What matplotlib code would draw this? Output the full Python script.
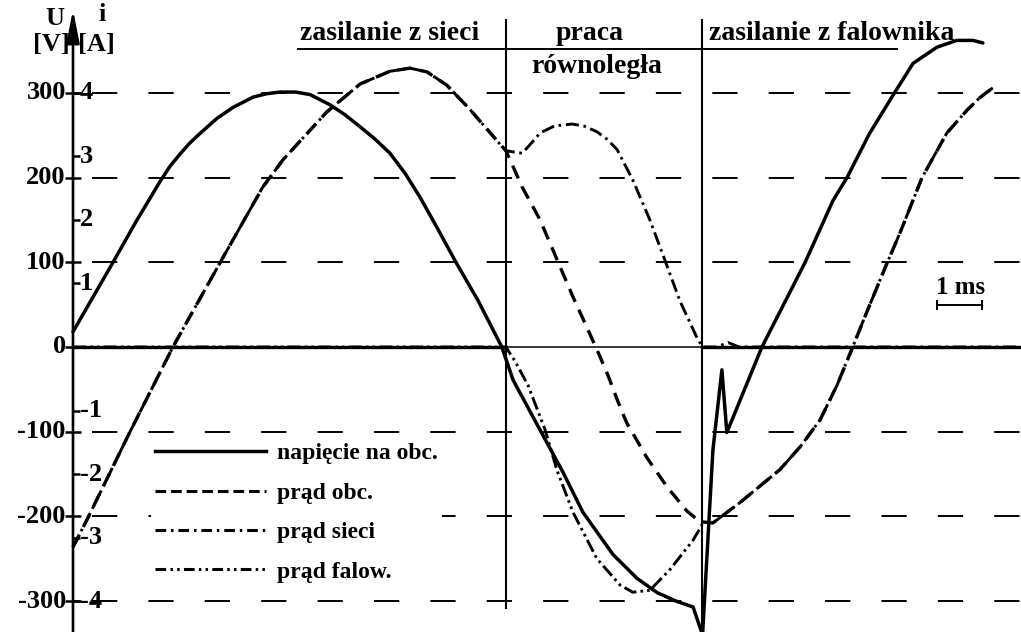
import numpy as np
import matplotlib

matplotlib.use("Agg")
import matplotlib.pyplot as plt
from matplotlib.lines import Line2D

plt.rcParams["font.family"] = ["Liberation Serif", "DejaVu Serif"]
plt.rcParams["font.weight"] = "bold"

# Oscillogram of the changeover from grid supply to inverter supply.
# Time in ms, voltage in V, currents in A (right-hand scale: 4 A <-> 300 V).

t_u = [0.00, 0.89, 1.40, 1.93, 2.15, 2.35, 2.58, 2.82, 3.20, 3.56, 4.00, 4.30,
       4.60, 4.95, 5.27, 5.71, 6.05, 6.38, 6.70, 7.04, 7.38, 7.71, 8.10, 8.51,
       9.00, 9.53, 9.78, 10.38, 10.89, 11.33, 12.00, 12.53, 12.98, 13.40, 13.78,
       13.99, 14.22, 14.42, 14.53, 15.31, 16.27, 16.89, 17.20, 17.70, 18.22,
       18.67, 19.20, 19.64, 20.00, 20.22]
u_load = [18, 100, 148, 195, 213, 226, 240, 252, 270, 283, 295, 299,
          301, 301, 298, 286, 274, 260, 246, 229, 205, 177, 140, 100,
          55, 0, -39, -98, -148, -195, -245, -273, -290, -300, -307,
          -340, -122, -27, -101, 0, 100, 173, 200, 252, 297,
          335, 354, 362, 362, 359]

t_load = [0.00, 0.31, 1.27, 2.22, 3.31, 4.22, 4.67, 5.64, 6.38, 7.04, 7.49,
          7.87, 8.31, 8.82, 9.42, 9.62, 9.78, 9.98, 10.38, 10.76, 11.11, 11.49,
          11.71, 11.89, 12.16, 12.31, 12.76, 13.20, 13.64, 13.93, 14.22, 14.82,
          15.71, 16.16, 16.60, 16.98, 17.27, 17.64, 18.09, 18.38, 18.87, 19.42,
          19.87, 20.16, 20.44]
i_load = [-3.15, -2.72, -1.33, 0.00, 1.38, 2.52, 2.95, 3.70, 4.14, 4.34, 4.39,
          4.33, 4.12, 3.74, 3.25, 3.09, 2.84, 2.52, 2.00, 1.37, 0.79, 0.20,
          -0.15, -0.45, -0.95, -1.20, -1.75, -2.20, -2.58, -2.75, -2.77, -2.45,
          -1.93, -1.57, -1.15, -0.60, -0.10, 0.55, 1.32, 1.80, 2.67, 3.37,
          3.73, 3.93, 4.08]

# grid current after the start of parallel operation (before it equals the load current)
t_grid_tail = [9.62, 9.98, 10.15, 10.38, 10.70, 11.09, 11.35, 11.64, 11.87, 12.09,
               12.44, 12.82, 13.11, 13.49, 13.89, 14.00, 14.30, 14.56, 14.80, 21.07]
i_grid_tail = [3.09, 3.05, 3.18, 3.37, 3.48, 3.51, 3.48, 3.39, 3.27, 3.11,
               2.63, 2.00, 1.45, 0.72, 0.11, 0.00, 0.00, 0.07, 0.00, 0.00]

# inverter current up to the end of parallel operation (afterwards it equals the load current)
t_inv_head = [0.00, 9.62, 9.82, 10.11, 10.49, 10.76, 11.11, 11.64, 12.16,
              12.44, 12.82, 13.27, 13.78, 13.98]
i_inv_head = [0.00, 0.00, -0.22, -0.60, -1.30, -1.95, -2.60, -3.33, -3.75,
              -3.86, -3.83, -3.50, -3.04, -2.80]

T_PARALLEL = (9.62, 13.98)
V_TICKS = [300, 200, 100, 0, -100, -200, -300]
A_TICKS = [4, 3, 2, 1, -1, -2, -3, -4]
V_PER_A = 75.0

LEGEND_LABELS = ["napięcie na obc.", "prąd obc.", "prąd sieci", "prąd falow."]

X_LIM = (-1.622, 21.067)
Y_LIM = (-336.5, 409.7)

t_load = np.array(t_load)
i_load = np.array(i_load)
pre = t_load < T_PARALLEL[0]
post = t_load > T_PARALLEL[1]
t_grid = np.concatenate([t_load[pre], t_grid_tail])
i_grid = np.concatenate([i_load[pre], i_grid_tail])
t_inv = np.concatenate([t_inv_head, t_load[post]])
i_inv = np.concatenate([i_inv_head, i_load[post]])

fig = plt.figure(figsize=(10.21, 6.32), dpi=100)
ax = fig.add_axes([0, 0, 1, 1])
ax.set_xlim(*X_LIM)
ax.set_ylim(*Y_LIM)
ax.set_axis_off()

# dashed reference levels
for v in V_TICKS:
    if v == 0:
        continue
    ax.plot([0.42, X_LIM[1]], [v, v], color="black", lw=1.4, dashes=(13, 16), zorder=1)

# zero line; heavier where the grid or inverter current sits at zero
ax.plot([0, X_LIM[1]], [0, 0], color="black", lw=1.1, zorder=2)
ax.plot([0, T_PARALLEL[0]], [0, 0], color="black", lw=2.4, zorder=2)
ax.plot([T_PARALLEL[1], X_LIM[1]], [0, 0], color="black", lw=2.4, zorder=2)

# y axis with arrow
ax.annotate("", xy=(0, 398), xytext=(0, Y_LIM[0]),
            arrowprops=dict(arrowstyle="-|>,head_length=0.9,head_width=0.18",
                            color="black", lw=1.9, mutation_scale=22,
                            shrinkA=0, shrinkB=0), zorder=3)

# tick marks and labels
ax.plot(np.zeros(len(V_TICKS)), V_TICKS, ls="none", marker="_", ms=12, mew=1.8,
        color="black")
a_pos = [a * V_PER_A for a in A_TICKS]
ax.plot(np.full(len(A_TICKS), 0.06), a_pos, ls="none", marker="_", ms=6, mew=1.8,
        color="black")
for v in V_TICKS:
    ax.text(-0.16, v, str(v), ha="right", va="center", fontsize=19)
for a, v in zip(A_TICKS, a_pos):
    ax.text(0.15, v, str(a), ha="left", va="center", fontsize=19)

ax.text(-0.40, 388, "U", ha="center", va="center", fontsize=19)
ax.text(-0.07, 357, "[V]", ha="right", va="center", fontsize=19)
ax.text(0.64, 392, "i", ha="center", va="center", fontsize=19)
ax.text(0.11, 357, "[A]", ha="left", va="center", fontsize=19)

# operating-mode separators and headings
ax.plot([T_PARALLEL[0]] * 2, [386, -308], color="black", lw=1.5, zorder=2)
ax.plot([T_PARALLEL[1]] * 2, [386, -332], color="black", lw=1.5, zorder=2)
ax.plot([5.0, 18.31], [352, 352], color="black", lw=1.4, zorder=2)
ax.text(5.04, 362, "zasilanie z sieci", ha="left", va="baseline", fontsize=20)
ax.text(11.49, 362, "praca", ha="center", va="baseline", fontsize=20)
ax.text(11.64, 323, "równoległa", ha="center", va="baseline", fontsize=20)
ax.text(14.13, 362, "zasilanie z falownika", ha="left", va="baseline", fontsize=20)

# time scale bar
ax.text(19.72, 70, "1 ms", ha="center", va="center", fontsize=18)
ax.plot([19.2, 20.2], [49, 49], color="black", lw=1.4, marker="|", ms=7, mew=1.4)

# traces
style_u = dict(color="black", lw=2.5, solid_capstyle="round", solid_joinstyle="round")
style_load = dict(color="black", lw=2.4, dashes=(4.2, 2.6))
style_grid = dict(color="black", lw=2.1, dashes=(4.5, 1.6, 0.9, 1.6))
style_inv = dict(color="black", lw=2.1, dashes=(4.5, 1.4, 0.9, 1.4, 0.9, 1.4))

ax.plot(t_u, u_load, zorder=4, **style_u)
ax.plot(t_load, i_load * V_PER_A, zorder=4, **style_load)
ax.plot(t_grid, i_grid * V_PER_A, zorder=4, **style_grid)
ax.plot(t_inv, i_inv * V_PER_A, zorder=4, **style_inv)

handles = [
    Line2D([], [], color="black", lw=2.5),
    Line2D([], [], color="black", lw=2.2, dashes=(3.5, 1.6)),
    Line2D([], [], color="black", lw=2.2, dashes=(3.5, 1.6, 0.8, 1.6)),
    Line2D([], [], color="black", lw=2.2, dashes=(3.5, 1.4, 0.8, 1.4, 0.8, 1.4)),
]
leg = ax.legend(handles, LEGEND_LABELS, loc="upper left",
                bbox_to_anchor=(0.148, 0.305), fontsize=17, frameon=True,
                facecolor="white", edgecolor="none", framealpha=1.0,
                fancybox=False, borderpad=0.15, borderaxespad=0.0,
                handlelength=4.7, handletextpad=0.5, labelspacing=0.76)
leg.set_zorder(5)

fig.savefig("out.png", dpi=100, facecolor="white")
